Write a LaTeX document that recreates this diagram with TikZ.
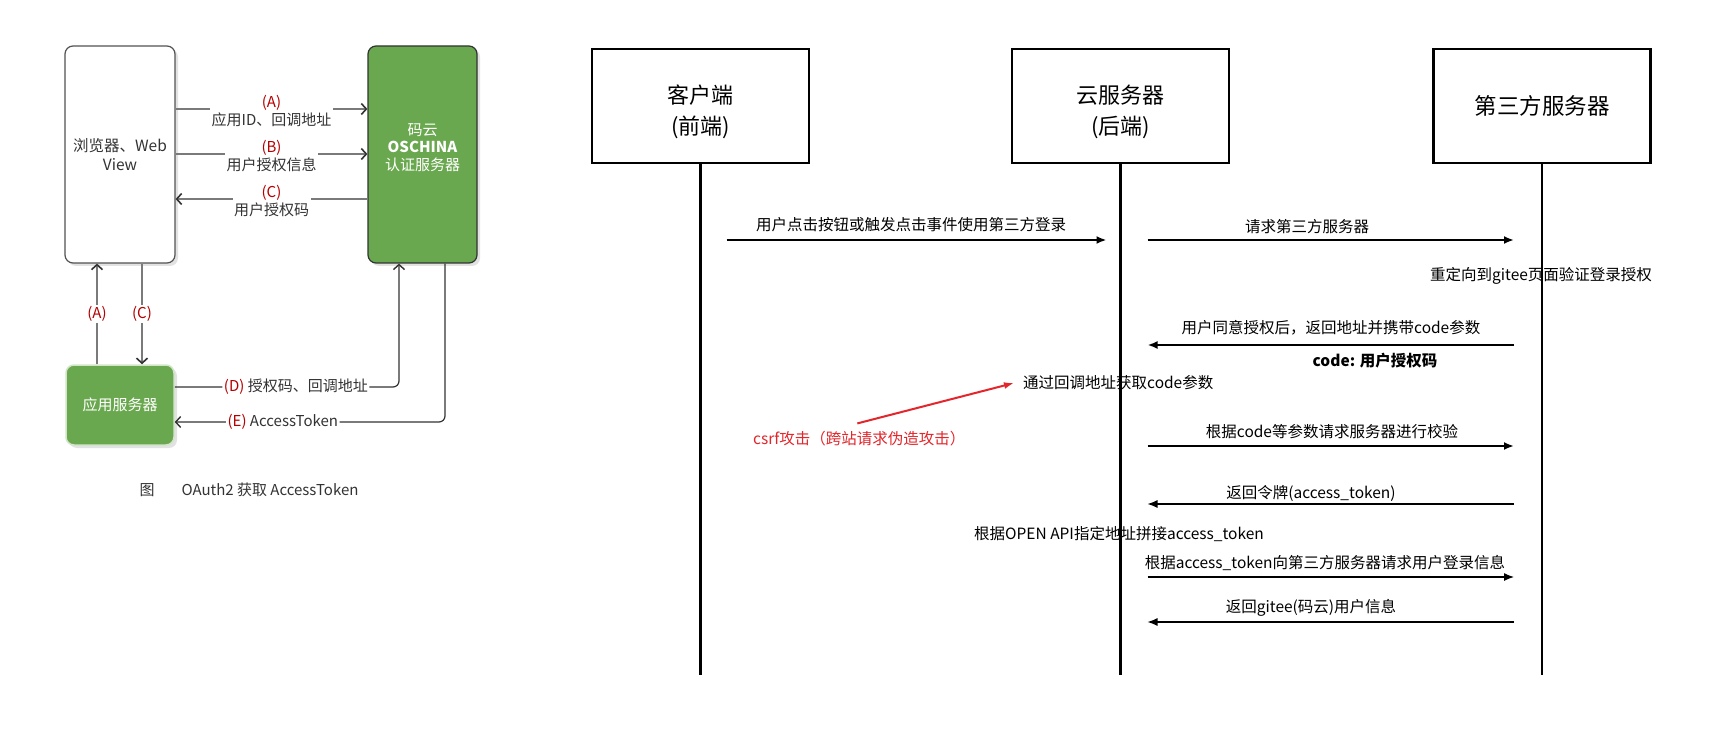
\documentclass[tikz,border=0pt]{standalone}
\usepackage{fontspec}
\setmainfont{Noto Sans CJK SC}
\usetikzlibrary{arrows.meta,shadows,calc}
\definecolor{oagreen}{HTML}{6AA84F}
\definecolor{oared}{HTML}{B40000}
\definecolor{oaline}{HTML}{7A7A7A}
\definecolor{oadark}{HTML}{333333}
\definecolor{csrfred}{HTML}{E3262B}
\begin{document}
\begin{tikzpicture}[x=1pt,y=-1pt,
  lfont/.style={font=\fontsize{15}{18}\selectfont},
  shad/.style={drop shadow={shadow xshift=3pt,shadow yshift=-3pt,fill=black!22}},
  brow/.style={draw=oadark!85, line width=1.2pt, rounded corners=8pt, fill=white,
    minimum width=110pt, minimum height=217pt, align=center, text=oadark,
    font=\fontsize{15.5}{18.5}\selectfont, shad},
  gbox/.style={draw=oadark, line width=1.2pt, rounded corners=8pt, fill=oagreen,
    minimum width=109pt, minimum height=217pt, shad},
  gtext/.style={align=center, text=white, font=\fontsize{15}{17.5}\selectfont},
  appbox/.style={draw=white!70!oagreen, line width=1.5pt, rounded corners=8pt, fill=oagreen,
    minimum width=108pt, minimum height=80pt, text=white, lfont, shad},
  larr/.style={draw=oaline, line width=1.8pt,
    -{Straight Barb[length=5pt,width=11pt,color=oadark,line width=1.6pt]}},
  darr/.style={draw=oadark, line width=1.2pt, rounded corners=6pt,
    -{Straight Barb[length=5pt,width=11pt,line width=1.4pt]}},
  lab/.style={fill=white, inner sep=1.5pt, align=center, text=oadark, lfont},
  sbox/.style={draw=black, line width=2.4pt, minimum width=217pt, minimum height=114pt,
    align=center, font=\fontsize{22.5}{30}\selectfont},
  stext/.style={align=center, font=\fontsize{22}{31}\selectfont},
  life/.style={draw=black, line width=2.4pt},
  marr/.style={draw=black, line width=2.4pt, -{Latex[length=10pt,width=8pt]}},
  tarr/.style={draw=black, line width=1.2pt, -{Latex[length=10pt,width=8pt]}},
  redarr/.style={draw=csrfred, line width=2pt, -{Latex[length=10pt,width=7pt]}},
  msg/.style={font=\fontsize{15.5}{19}\selectfont, inner sep=0pt},
]
\useasboundingbox[fill=white] (0,0) rectangle (1724,735);

% ---------------- left: OAuth2 ----------------
\node[brow] (browser) at (120,154.5) {浏览器、Web\\View};
\node[gbox] (oschina) at (422.5,154.5) {};
\node[gtext] (oschinaT) at (422.5,147.5) {码云\\\textbf{OSCHINA}\\认证服务器};
\node[appbox] (app) at (120,405) {应用服务器};

\draw[larr] (browser.east |- 0,109) -- node[lab,yshift=-2pt]{\textcolor{oared}{(A)}\\应用ID、回调地址} (oschina.west |- 0,109);
\draw[larr] (browser.east |- 0,154) -- node[lab,yshift=-2pt]{\textcolor{oared}{(B)}\\用户授权信息} (oschina.west |- 0,154);
\draw[larr] (oschina.west |- 0,199) -- node[lab,yshift=-2pt]{\textcolor{oared}{(C)}\\用户授权码} (browser.east |- 0,199);

\draw[larr] (app.north -| 97,0) -- node[lab]{\textcolor{oared}{(A)}} (browser.south -| 97,0);
\draw[larr] (browser.south -| 142,0) -- node[lab]{\textcolor{oared}{(C)}} (app.north -| 142,0);

\draw[darr] (app.east |- 0,387) -| node[lab,pos=0.27]{\textcolor{oared}{(D)} 授权码、回调地址} (oschina.south -| 399,0);
\draw[darr] (oschina.south -| 445,0) |- node[lab,pos=0.8]{\textcolor{oared}{(E)} AccessToken} (app.east |- 0,422);

\node[lfont,text=oadark] (figmark) at (147,490) {图};
\node[lfont,text=oadark,anchor=west] (caption) at (178,490) {OAuth2 获取 AccessToken};

% ---------------- right: sequence ----------------
\node[sbox] (client) at (700.5,106) {};
\node[stext] (clientT) at (700.5,112) {客户端\\(前端)};
\node[sbox] (cloud) at (1120.5,106) {};
\node[stext] (cloudT) at (1120.5,112) {云服务器\\(后端)};
\node[sbox] (third) at (1542,106) {第三方服务器};

\coordinate (clientEnd) at (client.south |- 0,675);
\coordinate (cloudEnd) at (cloud.south |- 0,675);
\coordinate (thirdEnd) at (third.south |- 0,675);
\draw[life] (client.south) -- (clientEnd);
\draw[life] (cloud.south) -- (cloudEnd);
\draw[life] (third.south) -- (thirdEnd);

\coordinate (cR) at ($(client.south)+(26,0)$);
\coordinate (dL) at ($(cloud.south)+(-14,0)$);
\coordinate (dR) at ($(cloud.south)+(27,0)$);
\coordinate (eL) at ($(third.south)+(-28,0)$);

\draw[marr] (cR |- 0,240) -- (dL |- 0,240);
\draw[marr] (dR |- 0,240) -- (eL |- 0,240);
\draw[marr] (eL |- 0,345) -- (dR |- 0,345);
\draw[marr] (dR |- 0,446) -- (eL |- 0,446);
\draw[tarr] (eL |- 0,504) -- (dR |- 0,504);
\draw[tarr] (dR |- 0,577) -- (eL |- 0,577);
\draw[tarr] (eL |- 0,622) -- (dR |- 0,622);

\node[msg] (t1) at (911,225) {用户点击按钮或触发点击事件使用第三方登录};
\node[msg] (t2) at (1307,227) {请求第三方服务器};
\node[msg] (t2b) at (1541,276) {重定向到gitee页面验证登录授权};
\node[msg] (t3) at (1331,328) {用户同意授权后，返回地址并携带code参数};
\node[msg,font=\fontsize{15.5}{19}\selectfont\bfseries] (t3b) at (1375,361) {code: 用户授权码};
\node[msg,anchor=west] (t3c) at (1023,383) {通过回调地址获取code参数};
\node[msg,anchor=west,text=csrfred] (csrf) at (753,439) {csrf攻击（跨站请求伪造攻击）};
\draw[redarr] ([xshift=-2pt,yshift=8pt]csrf.north) -- ([xshift=-9pt]t3c.west);
\node[msg] (t4) at (1332,432) {根据code等参数请求服务器进行校验};
\node[msg] (t5) at (1311,493) {返回令牌(access\_token)};
\node[msg] (t5b) at (1119,534) {根据OPEN API指定地址拼接access\_token};
\node[msg] (t6) at (1325,563) {根据access\_token向第三方服务器请求用户登录信息};
\node[msg] (t7) at (1311,608) {返回gitee(码云)用户信息};
\end{tikzpicture}
\end{document}
